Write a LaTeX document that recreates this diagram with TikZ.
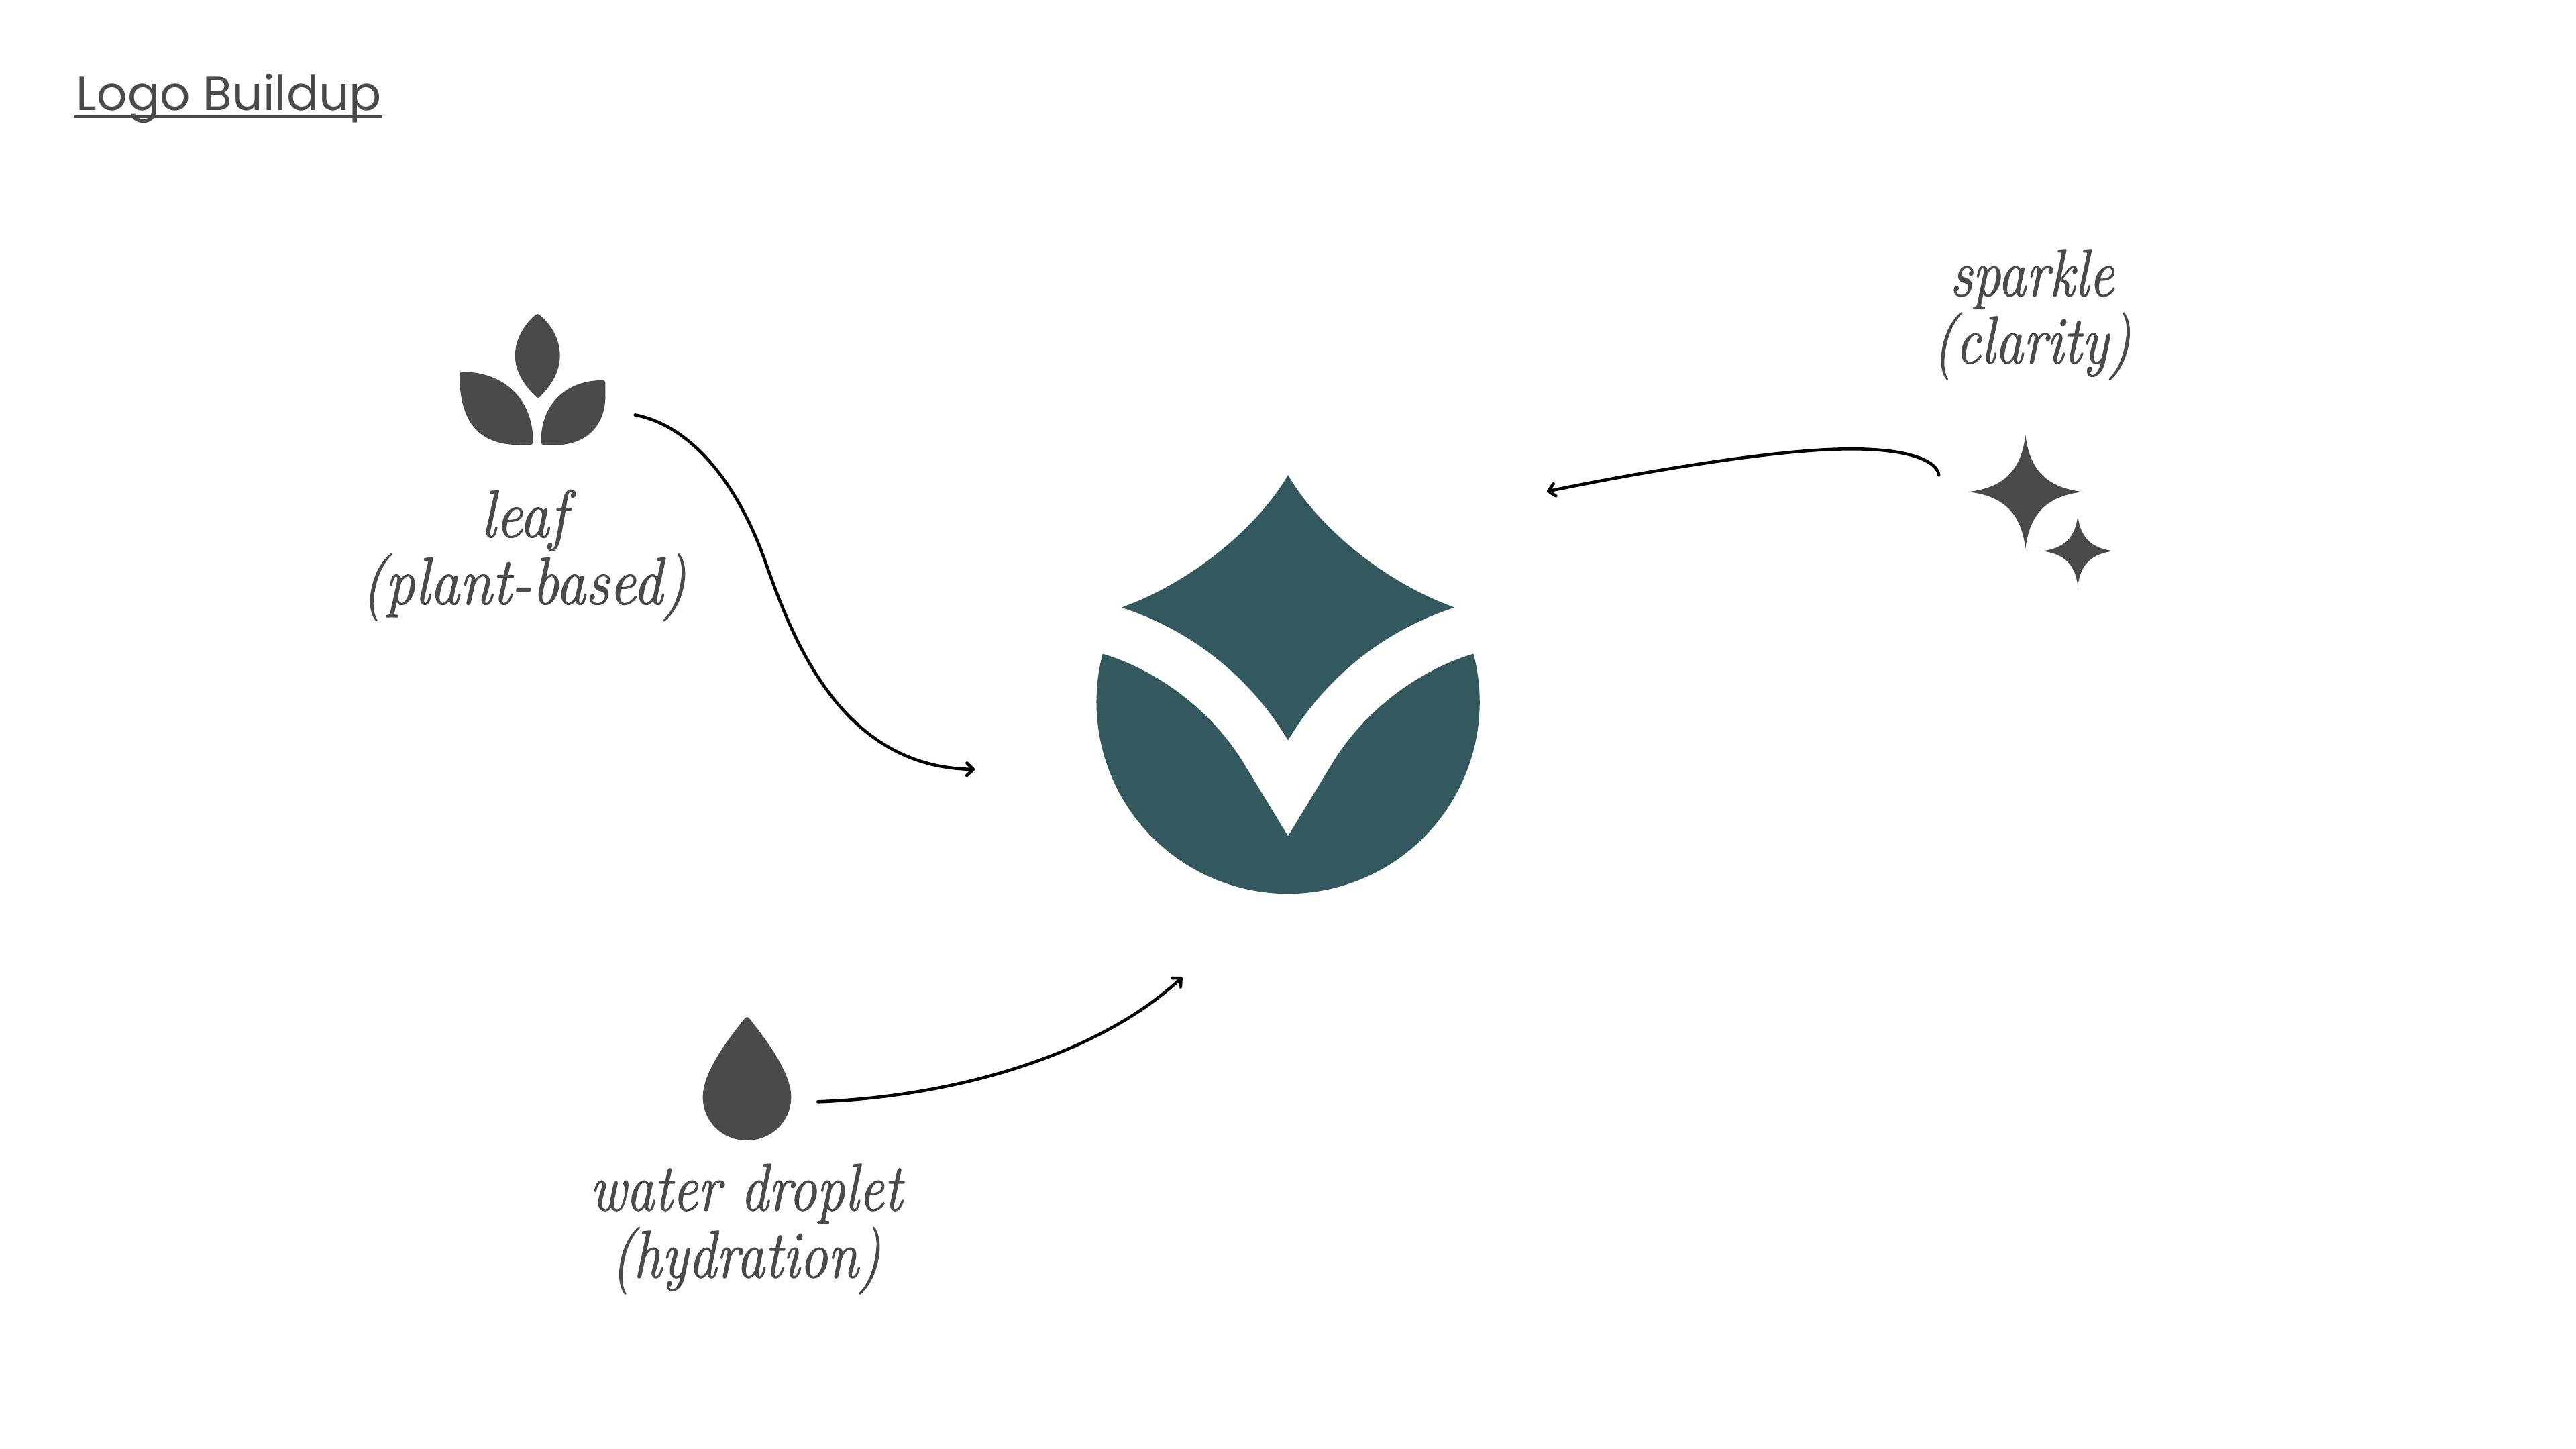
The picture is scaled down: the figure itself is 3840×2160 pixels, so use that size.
\documentclass[tikz,border=0pt]{standalone}
\usepackage{fontspec}
\usetikzlibrary{arrows.meta}
\newfontfamily\titlefont{Poppins}
\definecolor{ink}{HTML}{4A4A4A}
\definecolor{logoteal}{HTML}{33585E}
\newcommand{\heavytext}[1]{\special{pdf:code 2 Tr 0.3 w}#1\special{pdf:code 0 Tr}}
\tikzset{
  icon/.style={fill=ink,draw=none},
  logofill/.style={fill=logoteal,draw=none},
  conn/.style={draw=black,line width=1.15pt,line cap=round,-{Straight Barb[length=2.4pt,width=4.6pt,round]}},
  lab/.style={text=ink,align=center,font=\fontsize{25}{25}\selectfont\itshape,transform shape,inner sep=0pt},
  sparkshape/.pic={\fill[icon] (0,-1) .. controls (.07,-.38) and (.38,-.07) .. (1,0) .. controls (.38,.07) and (.07,.38) .. (0,1) .. controls (-.07,.38) and (-.38,.07) .. (-1,0) .. controls (-.38,-.07) and (-.07,-.38) .. (0,-1) -- cycle;}
}
\begin{document}
\begin{tikzpicture}[x=0.25pt,y=-0.25pt]
\useasboundingbox (0,0) rectangle (3840,2160);
\fill[white] (0,0) rectangle (3840,2160);
% title
\node[anchor=base west,inner sep=0pt,text=ink,font=\fontsize{17.8}{20}\selectfont\titlefont] (title) at (113,165) {Logo Buildup};
\coordinate (ulA) at (110.7,174.3);
\coordinate (ulB) at (570,174.3);
\draw[ink,line width=.95pt] (ulA) -- (ulB);
% logo
\begin{scope}[shift={(1560,660)},scale=0.4592]
\fill[logofill] (784,105) .. controls (880,270) and (1090,450) .. (1325,535) .. controls (1090,610) and (900,770) .. (784,966) .. controls (668,770) and (478,610) .. (243,535) .. controls (478,450) and (688,270) .. (784,105) -- cycle;
\fill[logofill] (182,685) .. controls (350,735) and (530,860) .. (640,1040) -- (784,1277) -- (928,1040) .. controls (1038,860) and (1218,735) .. (1386,685) arc[start angle=-14.6,end angle=194.6,radius=622] -- cycle;
\end{scope}
% leaf icon
\begin{scope}[shift={(500,430)},xscale=.3571,yscale=.3333]
\fill[icon] (835,118) .. controls (843,113) and (846,113) .. (852,118) .. controls (905,165) and (937,230) .. (937,300) .. controls (937,375) and (900,435) .. (853,485) .. controls (847,491) and (843,491) .. (838,485) .. controls (790,435) and (750,375) .. (750,300) .. controls (750,230) and (785,165) .. (835,118) -- cycle;
\fill[icon] (518,385) .. controls (518,375) and (523,373) .. (535,373) .. controls (700,375) and (825,490) .. (825,685) .. controls (825,695) and (820,700) .. (810,700) -- (770,700) .. controls (600,700) and (518,600) .. (518,385) -- cycle;
\fill[icon] (1127,425) .. controls (1127,413) and (1122,411) .. (1112,411) .. controls (970,411) and (858,510) .. (858,685) .. controls (858,695) and (863,700) .. (875,700) -- (920,700) .. controls (1050,700) and (1127,610) .. (1127,480) -- cycle;
\end{scope}
% droplet icon
\begin{scope}[shift={(860,1490)},scale=.3333]
\fill[icon] (748,88) .. controls (757,75) and (765,75) .. (774,88) .. controls (830,160) and (958,320) .. (958,435) .. controls (958,545) and (870,630) .. (760,630) .. controls (650,630) and (563,545) .. (563,435) .. controls (563,320) and (690,160) .. (748,88) -- cycle;
\end{scope}
% sparkle icon
\pic[xscale=85.5,yscale=85] at (3019.3,733.2) {sparkshape};
\pic[xscale=54,yscale=52.5] at (3097.3,821.4) {sparkshape};
% labels
\node[lab,xscale=.884] (leaflab) at (781,828) {\heavytext{leaf}\\\heavytext{(plant-based)}};
\node[lab,xscale=.835] (waterlab) at (1112,1832) {\heavytext{water droplet}\\\heavytext{(hydration)}};
\node[lab,xscale=.84] (sparklab) at (3029,469) {\heavytext{sparkle}\\\heavytext{(clarity)}};
% connectors
\begin{scope}[shift={(930,600)},xscale=.3571,yscale=.37]
\coordinate (leafout) at (47,50);
\coordinate (leafin) at (1465,1478);
\coordinate (leafmid) at (590,640);
\draw[conn] (leafout) .. controls (290,95) and (480,340) .. (leafmid) .. controls (700,940) and (900,1470) .. (leafin);
\end{scope}
\begin{scope}[shift={(2290,640)},xscale=.3954,yscale=.3333]
\coordinate (sparkout) at (1518,205);
\coordinate (sparkin) at (40,278);
\coordinate (sparkmidA) at (1350,100);
\coordinate (sparkmidB) at (1170,88);
\draw[conn] (sparkout) .. controls (1512,155) and (1450,118) .. (sparkmidA) .. controls (1290,90) and (1230,87) .. (sparkmidB) .. controls (900,90) and (400,190) .. (sparkin);
\end{scope}
\begin{scope}[shift={(1200,1440)},xscale=.3699,yscale=.3333]
\coordinate (dropout) at (52,607);
\coordinate (dropin) at (1520,50);
\draw[conn] (dropout) .. controls (600,585) and (1180,400) .. (dropin);
\end{scope}
\end{tikzpicture}
\end{document}
